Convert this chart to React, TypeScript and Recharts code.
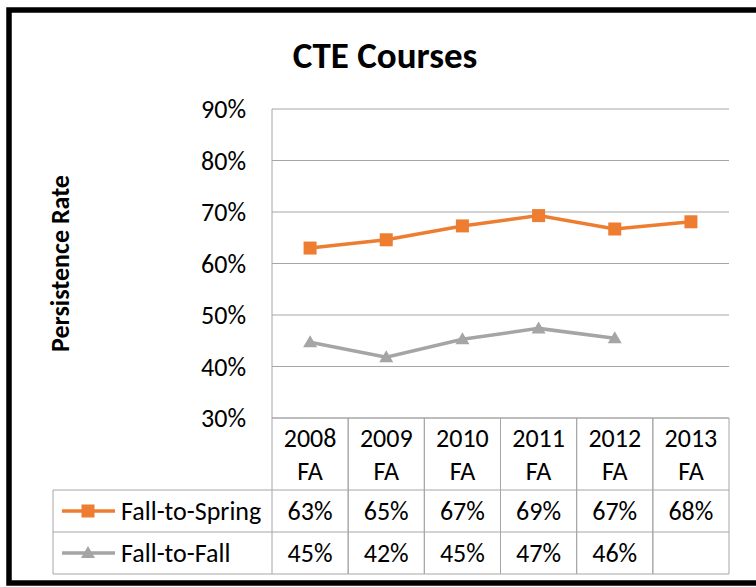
import React from 'react';
import {
  LineChart,
  Line,
  CartesianGrid,
  XAxis,
  YAxis,
  Customized,
} from 'recharts';

const years = ['2008', '2009', '2010', '2011', '2012', '2013'];
const termLabel = 'FA';
const fallToSpring = [63.0, 64.6, 67.3, 69.3, 66.7, 68.1];
const fallToFall: (number | null)[] = [44.7, 41.8, 45.3, 47.4, 45.5, null];
const yTicks = [30, 40, 50, 60, 70, 80, 90];
const seriesKeys = ['fs', 'ff'];
const seriesNames = ['Fall-to-Spring', 'Fall-to-Fall'];
const seriesColors = ['#ED7D31', '#A5A5A5'];
const chartTitle = 'CTE Courses';
const yTitle = 'Persistence Rate';

const data = years.map((year, i) => ({
  year,
  fs: fallToSpring[i],
  ff: fallToFall[i],
}));

const W = 756;
const H = 587;
const PLOT_LEFT = 272;
const PLOT_RIGHT = 729;
const PLOT_TOP = 109;
const PLOT_BOTTOM = 418;
const COL_W = (PLOT_RIGHT - PLOT_LEFT) / years.length;
const HEAD_H = 72;
const ROW_H = 42;
const TABLE_LEFT = 53;
const GRID = '#A6A6A6';
const FONT = 'Carlito, Lato, "Open Sans", sans-serif';
const FS = 26;

const fmt = (v: number | null) => (v == null ? '' : `${Math.round(v)}%`);

// one table column per category, drawn at the axis tick position
const ColumnTick = (props: any) => {
  const { x, y, payload } = props;
  const half = COL_W / 2;
  const i = payload.index;
  const rowsTop = y + HEAD_H;
  const bottom = rowsTop + ROW_H * 2;
  const txt = { textAnchor: 'middle' as const, dominantBaseline: 'central' as const, fontSize: FS, fill: '#000', fontFamily: FONT };
  return (
    <g>
      <line x1={x - half} x2={x - half} y1={y} y2={bottom} stroke={GRID} />
      <line x1={x + half} x2={x + half} y1={y} y2={bottom} stroke={GRID} />
      <line x1={x - half} x2={x + half} y1={rowsTop} y2={rowsTop} stroke={GRID} />
      <line x1={x - half} x2={x + half} y1={rowsTop + ROW_H} y2={rowsTop + ROW_H} stroke={GRID} />
      <line x1={x - half} x2={x + half} y1={bottom} y2={bottom} stroke={GRID} />
      <text x={x} y={y + 20} {...txt}>{payload.value}</text>
      <text x={x} y={y + 53} {...txt}>{termLabel}</text>
      <text x={x} y={rowsTop + ROW_H / 2} {...txt}>{fmt(fallToSpring[i])}</text>
      <text x={x} y={rowsTop + ROW_H * 1.5} {...txt}>{fmt(fallToFall[i])}</text>
    </g>
  );
};

const SquareDot = (props: any) => {
  const { cx, cy, fill } = props;
  if (cx == null || cy == null) return null;
  return <rect x={cx - 6.5} y={cy - 6.5} width={13} height={13} fill={fill} />;
};

const TriangleDot = (props: any) => {
  const { cx, cy, fill } = props;
  if (cx == null || cy == null) return null;
  return <path d={`M${cx},${cy - 7} L${cx + 7},${cy + 5} L${cx - 7},${cy + 5} Z`} fill={fill} />;
};

const Frame = () => {
  const rowsTop = PLOT_BOTTOM + HEAD_H;
  const midY = (PLOT_TOP + PLOT_BOTTOM) / 2;
  return (
    <g>
      <rect x={9} y={10} width={W + 20} height={H - 14} fill="none" stroke="#000" strokeWidth={5.5} />
      <text x={385} y={55} textAnchor="middle" dominantBaseline="central" fontSize={37} fontWeight="bold" fontFamily={FONT}>
        {chartTitle}
      </text>
      <text
        x={60}
        y={midY}
        transform={`rotate(-90, 60, ${midY})`}
        textAnchor="middle"
        dominantBaseline="central"
        fontSize={FS}
        fontWeight="bold"
        fontFamily={FONT}
      >
        {yTitle}
      </text>
      {/* legend column of the data table */}
      <line x1={TABLE_LEFT} x2={PLOT_LEFT} y1={rowsTop} y2={rowsTop} stroke={GRID} />
      <line x1={TABLE_LEFT} x2={PLOT_LEFT} y1={rowsTop + ROW_H} y2={rowsTop + ROW_H} stroke={GRID} />
      <line x1={TABLE_LEFT} x2={PLOT_LEFT} y1={rowsTop + ROW_H * 2} y2={rowsTop + ROW_H * 2} stroke={GRID} />
      <line x1={TABLE_LEFT} x2={TABLE_LEFT} y1={rowsTop} y2={rowsTop + ROW_H * 2} stroke={GRID} />
      {seriesNames.map((name, i) => {
        const cy = rowsTop + ROW_H * (i + 0.5);
        const color = seriesColors[i];
        return (
          <g key={name}>
            <line x1={62} x2={115} y1={cy} y2={cy} stroke={color} strokeWidth={3.5} />
            {i === 0 ? <SquareDot cx={88} cy={cy} fill={color} /> : <TriangleDot cx={88} cy={cy} fill={color} />}
            <text x={121} y={cy} dominantBaseline="central" fontSize={FS} fontFamily={FONT}>
              {name}
            </text>
          </g>
        );
      })}
    </g>
  );
};

const App: React.FC = () => {
  const axisH = H - PLOT_BOTTOM - 13;
  return (
    <div style={{ position: 'absolute', left: 0, top: 0, width: W, height: H, background: '#fff' }}>
      <LineChart
        width={W}
        height={H}
        data={data}
        margin={{ top: PLOT_TOP, right: W - PLOT_RIGHT, bottom: 13, left: PLOT_LEFT - 60 }}
      >
        <CartesianGrid vertical={false} stroke={GRID} />
        <XAxis
          dataKey="year"
          padding={{ left: COL_W / 2, right: COL_W / 2 }}
          axisLine={{ stroke: GRID }}
          tickLine={false}
          tickSize={0}
          tickMargin={0}
          height={axisH}
          interval={0}
          tick={<ColumnTick />}
        />
        <YAxis
          width={60}
          domain={[30, 90]}
          ticks={yTicks}
          tickFormatter={(v: number) => `${v}%`}
          axisLine={{ stroke: GRID }}
          tickLine={false}
          tickSize={0}
          tickMargin={26}
          tick={{ fontSize: FS, fill: '#000', fontFamily: FONT }}
        />
        {seriesKeys.map((key, i) => (
          <Line
            key={key}
            dataKey={key}
            name={seriesNames[i]}
            stroke={seriesColors[i]}
            strokeWidth={3.5}
            fill={seriesColors[i]}
            dot={i === 0 ? <SquareDot fill={seriesColors[i]} /> : <TriangleDot fill={seriesColors[i]} />}
            activeDot={false}
            isAnimationActive={false}
          />
        ))}
        <Customized component={Frame} />
      </LineChart>
    </div>
  );
};

export default App;
